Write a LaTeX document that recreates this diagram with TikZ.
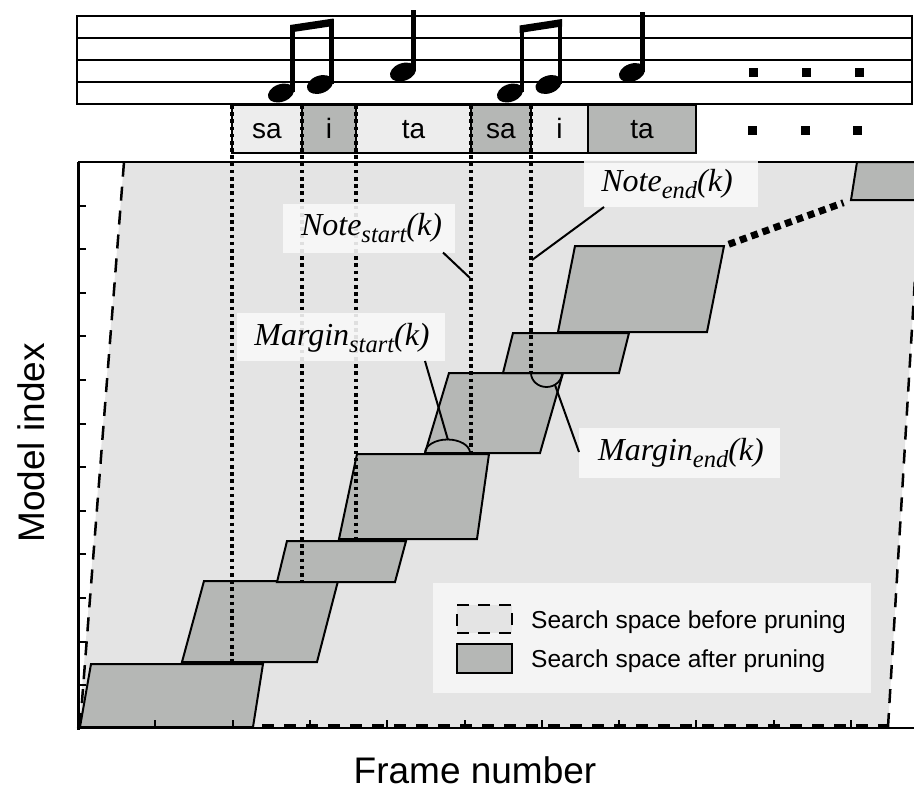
\documentclass[tikz,border=0pt]{standalone}
\usepackage{fontspec}
\setmainfont{Liberation Serif}
\newfontfamily\plotsans{Liberation Sans}
\definecolor{regiongray}{HTML}{E4E4E4}
\definecolor{prunegray}{HTML}{B5B7B5}
\definecolor{sylllight}{HTML}{EDEDED}
\definecolor{sylldark}{HTML}{B5B7B5}
\definecolor{tagfill}{HTML}{F8F8F8}
\definecolor{legendfill}{HTML}{F4F4F4}
\newcommand\tagtext[2]{\fontsize{32}{36}\selectfont\itshape #1\raisebox{-7pt}{\fontsize{24.5}{28}\selectfont #2}(k)}
\newcommand\headat[1]{\fill[shift={#1},rotate=20] (0,0) ellipse [x radius=13.5pt, y radius=8.8pt];}
\begin{document}
\begin{tikzpicture}[x=1pt,y=-1pt,
  pruned/.style={fill=prunegray, draw=black, line width=2pt, line join=miter},
  marker/.style={draw=black, line width=3.6pt, dash pattern=on 3.6pt off 3.6pt},
  boundary/.style={draw=black, line width=2.5pt, dash pattern=on 14pt off 10pt},
  axisline/.style={draw=black, line width=3pt},
  tick/.style={draw=black, line width=2pt},
  pointer/.style={draw=black, line width=2pt},
  tagbox/.style={rectangle, fill=tagfill, fill opacity=0.9, inner sep=0pt, outer sep=0pt},
  tagtxt/.style={anchor=base, inner sep=0pt},
  syl/.style={rectangle, draw=black, line width=1.5pt, minimum height=48pt, inner sep=0pt, outer sep=0pt,
              text height=20pt, text depth=2pt, font=\plotsans\fontsize{28}{30}\selectfont},
  chain/.style={draw=black, line width=7pt, dash pattern=on 7pt off 5pt},
  staffline/.style={draw=black, line width=2pt},
  legtxt/.style={anchor=base west, inner sep=0pt, font=\plotsans\fontsize{24.5}{28}\selectfont},
  axlabel/.style={anchor=base, inner sep=0pt, font=\plotsans\fontsize{37}{40}\selectfont},
]
\useasboundingbox (0,0) rectangle (914,790);
\fill[white] (0,0) rectangle (914,790);

% search space before pruning, and the blocks that survive pruning
\begin{scope}
  \clip (78,162) rectangle (914,728);
  \fill[regiongray] (79,727) -- (124,162) -- (922,162) -- (888,727) -- cycle;
  \draw[boundary] (80,727) -- (124,162);
  \draw[boundary] (888,727) -- (922,162);
  \draw[pruned] (851,200) -- (962,200) -- (968,162) -- (857,162) -- cycle;
\end{scope}
\draw[boundary, line width=3pt, dash pattern=on 12pt off 10pt] (262,725) -- (888,725);

\draw[pruned] (80,727) -- (253,727) -- (263,664) -- (91,664) -- cycle;
\draw[pruned] (182,662) -- (317,662) -- (338,581) -- (204,581) -- cycle;
\draw[pruned] (277,582) -- (395,582) -- (406,541) -- (287,541) -- cycle;
\draw[pruned] (339,539) -- (477,539) -- (489,454) -- (357,454) -- cycle;
\draw[pruned] (425,453) -- (540,453) -- (563,373) -- (449,373) -- cycle;
\draw[pruned] (503,373) -- (619,373) -- (629,333) -- (513,333) -- cycle;
\draw[pruned] (558,332) -- (707,332) -- (724,246) -- (575,246) -- cycle;
\coordinate (p7tr) at (724,246);
\coordinate (p8bl) at (851,200);
\draw[chain, shorten <=5pt, shorten >=8pt] (p7tr) -- (p8bl);

% axes
\draw[axisline] (78,162) -- (78,729.5);
\draw[axisline, line width=2.5pt] (76.5,728) -- (914,728);
\draw[line width=2pt] (78,162) -- (914,162);
\foreach \i in {1,...,10} \draw[tick] ({78+77.3*\i},728) -- ++(0,-8);
\foreach \k in {1,...,12} \draw[tick] (78,{162+43.6*\k}) -- ++(8,0);

% syllables under the staff
\node[syl, fill=sylllight, minimum width=70pt]  (s1) at (267,129)   {sa};
\node[syl, fill=sylldark,  minimum width=54pt]  (s2) at (329,129)   {i};
\node[syl, fill=sylllight, minimum width=115pt] (s3) at (413.5,129) {ta};
\node[syl, fill=sylldark,  minimum width=60pt]  (s4) at (501,129)   {sa};
\node[syl, fill=sylllight, minimum width=57pt]  (s5) at (559.5,129) {i};
\node[syl, fill=sylldark,  minimum width=108pt] (s6) at (642,129)   {ta};

% note boundaries carried down to the blocks
\coordinate (m1) at (232,663);
\coordinate (m2) at (302,581);
\coordinate (m3) at (356,539);
\coordinate (m4) at (471,453);
\coordinate (m5) at (531,373);
\draw[marker] (s1.north west) -- (m1);
\draw[marker] (s2.north west) -- (m2);
\draw[marker] (s3.north west) -- (m3);
\draw[marker] (s4.north west) -- (m4);
\draw[marker] (s5.north west) -- (m5);

% margin arcs
\draw[line width=1.8pt] (425,453) arc[start angle=180, end angle=0, x radius=22.5pt, y radius=13.5pt];
\draw[line width=1.8pt] (531,373) arc[start angle=180, end angle=360, x radius=15.5pt, y radius=14pt];
\coordinate (msarc) at (448,440);
\coordinate (mearc) at (555,385);
\coordinate (nsmark) at (470,278);
\coordinate (nemark) at (532,260);

% labels
\node[tagbox, minimum width=172pt, minimum height=49pt] (nsbox) at (369,228) {};
\node[tagbox, minimum width=174pt, minimum height=47pt] (nebox) at (671,183.5) {};
\node[tagbox, minimum width=208pt, minimum height=48pt] (msbox) at (341,337) {};
\node[tagbox, minimum width=201pt, minimum height=50pt] (mebox) at (679.5,453) {};
\node[tagtxt] (nstxt) at (371.5,235) {\tagtext{Note}{start}};
\node[tagtxt] (netxt) at (667,191.5) {\tagtext{Note}{end}};
\node[tagtxt] (mstxt) at (342,345) {\tagtext{Margin}{start}};
\node[tagtxt] (metxt) at (681,460) {\tagtext{Margin}{end}};
\draw[pointer] ([xshift=74pt]nsbox.south) -- (nsmark);
\draw[pointer] ([xshift=-67pt]nebox.south) -- (nemark);
\draw[pointer] ([xshift=84pt]msbox.south) -- (msarc);
\draw[pointer] (mearc) -- ([yshift=1pt]mebox.west);

% legend
\node[rectangle, fill=legendfill, minimum width=438pt, minimum height=110pt, inner sep=0pt] (legend) at (652,638) {};
\node[rectangle, fill=regiongray, draw=black, line width=2pt, dash pattern=on 12pt off 9pt,
      minimum width=55pt, minimum height=28pt, inner sep=0pt] (sw1) at (484.5,619) {};
\node[rectangle, fill=prunegray, draw=black, line width=2pt,
      minimum width=55pt, minimum height=29pt, inner sep=0pt] (sw2) at (484.5,658.5) {};
\node[legtxt] (lg1) at (531,628) {Search space before pruning};
\node[legtxt] (lg2) at (531,667) {Search space after pruning};

% axis titles
\node[axlabel] (xlab) at (475,783) {Frame number};
\node[axlabel, rotate=90] (ylab) at (44,443) {Model index};

% staff
\draw[staffline] (77,16) rectangle (912,104);
\foreach \yy in {38,60,82} \draw[staffline] (77,\yy) -- (912,\yy);

% beamed eighth pair
\headat{(281,93)}
\headat{(320,84.5)}
\fill (290,27) rectangle (294.5,92);
\fill (329,19) rectangle (333.5,84);
\fill (290,25) -- (333.5,18.5) -- (333.5,26) -- (290,32.5) -- cycle;
% quarter
\headat{(403,72)}
\fill (411,10) rectangle (415.5,71);
% beamed eighth pair
\headat{(510,93)}
\headat{(548.5,84.5)}
\fill (519.5,27) rectangle (524,92);
\fill (557.5,20.5) rectangle (562,84);
\fill (519.5,25.5) -- (562,19) -- (562,26.5) -- (519.5,33) -- cycle;
% quarter
\headat{(632,72.5)}
\fill (640,11.5) rectangle (644.5,72);

% continuation dots
\foreach \xx in {753,806.5,859.5} \fill (\xx-4.5,67.5) rectangle ++(9,9);
\foreach \xx in {752,805.5,857} \fill (\xx-4.5,125.5) rectangle ++(9,9);
\end{tikzpicture}
\end{document}
